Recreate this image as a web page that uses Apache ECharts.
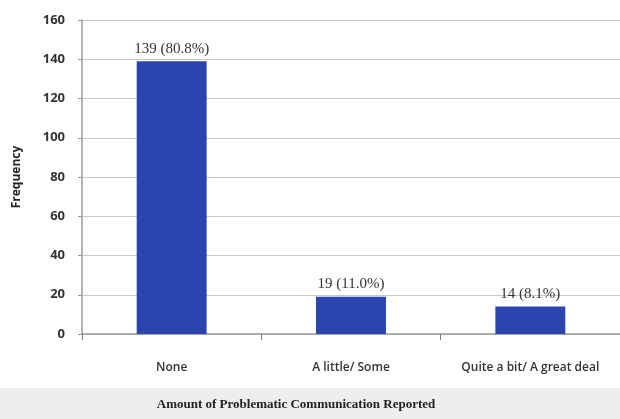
<!DOCTYPE html>
<html><head><meta charset="utf-8">
<script src="https://cdn.jsdelivr.net/npm/echarts@6/dist/echarts.min.js"></script>
<style>html,body{margin:0;padding:0;background:#fff}#c{width:620px;height:419px}</style>
</head><body><div id="c"></div>
<script>
const categories = ["None", "A little/ Some", "Quite a bit/ A great deal"];
const frequency = [139, 19, 14];
const percents = ["80.8%", "11.0%", "8.1%"];
const yTicks = [0, 20, 40, 60, 80, 100, 120, 140, 160];
const xTitle = "Amount of Problematic Communication Reported";

const chart = echarts.init(document.getElementById('c'));
chart.setOption({
  animation: false,
  backgroundColor: '#ffffff',
  graphic: [{
    type: 'rect', left: 0, top: 388, z: -10,
    shape: {width: 620, height: 31},
    style: {fill: '#eeeeee'}
  }, {
    type: 'text', x: 296, y: 405,
    style: {
      text: xTitle, fill: '#222', font: 'bold 13px "Liberation Serif"',
      textAlign: 'center', textVerticalAlign: 'middle'
    }
  }],
  grid: {left: 82, right: 0, top: 20, bottom: 85},
  xAxis: {
    type: 'category',
    data: categories,
    axisLine: {lineStyle: {color: '#9a9a9a', width: 1.5}},
    axisTick: {show: true, length: 6, lineStyle: {color: '#777'}},
    axisLabel: {color: '#333', fontFamily: 'Open Sans', fontWeight: 600, fontSize: 12, margin: 28}
  },
  yAxis: {
    type: 'value',
    min: yTicks[0], max: yTicks[yTicks.length - 1], interval: 20,
    axisLine: {show: true, lineStyle: {color: '#9a9a9a', width: 1.5}},
    axisTick: {show: true, length: 4, lineStyle: {color: '#999'}},
    splitLine: {lineStyle: {color: '#c8c8c8'}},
    axisLabel: {color: '#333', fontFamily: 'Open Sans', fontWeight: 'bold', fontSize: 13, margin: 17},
    name: 'Frequency',
    nameLocation: 'middle',
    nameGap: 59,
    nameTextStyle: {color: '#222', fontFamily: 'Open Sans', fontWeight: 'bold', fontSize: 12}
  },
  series: [{
    type: 'bar',
    data: frequency,
    barWidth: '39%',
    itemStyle: {color: '#2a45ad'},
    label: {
      show: true, position: 'top', distance: 5,
      color: '#333', fontFamily: 'Liberation Serif', fontSize: 15,
      formatter: p => p.value + ' (' + percents[p.dataIndex] + ')'
    }
  }]
});
</script></body></html>
